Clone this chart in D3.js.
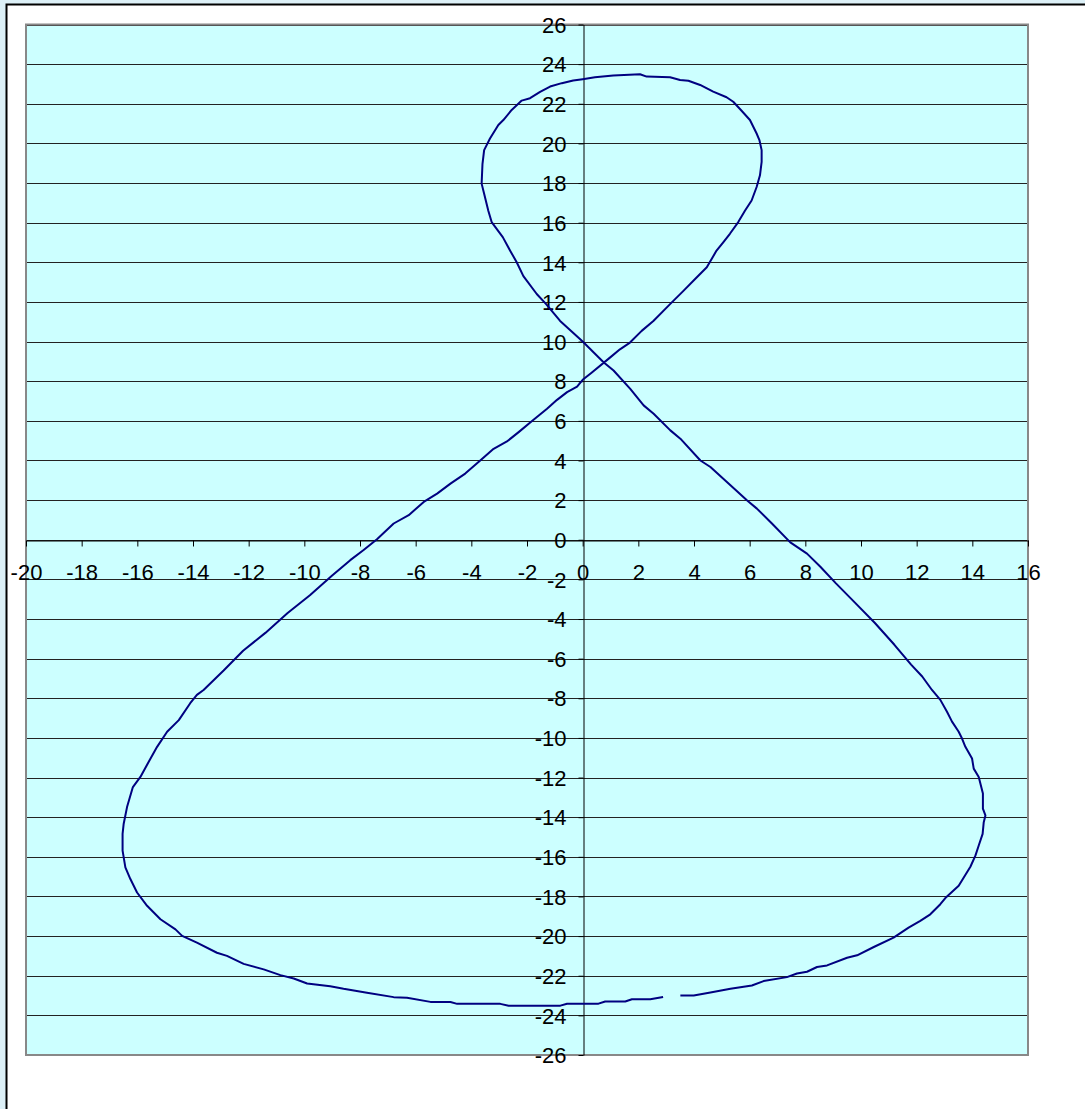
<!DOCTYPE html>
<html>
<head>
<meta charset="utf-8">
<script src="https://cdn.jsdelivr.net/npm/d3@7"></script>
<style>
  body { margin: 0; background: #dcf0f7; overflow: hidden; }
  svg { display: block; }
  .tick text { font-family: Arial, "Liberation Sans", sans-serif; font-size: 22px; fill: #000; }
</style>
</head>
<body>
<div id="chart"></div>
<script>
// tick values
const xTicks = d3.range(-20, 17, 2);
const yTicks = d3.range(-26, 27, 2);

// curve points (start right of the small gap, end left of it)
const curveX = [3.51, 3.99, 4.59, 5.31, 6.08, 6.5, 7.34, 7.7, 8.06, 8.42, 8.78, 9.5, 9.86, 10.46, 11.17, 11.71, 12.13, 12.49, 12.85, 13.03,
  13.51, 13.93, 14.11, 14.23, 14.37, 14.41, 14.47, 14.38, 14.38, 14.23, 14.05, 13.99, 13.75, 13.63, 13.51, 13.27, 13.09, 12.85, 12.55,
  12.2, 11.8, 11.2, 10.5, 9.8, 9.1, 8.54, 8.06, 7.46, 6.8, 6.26, 5.9, 5.31, 4.59, 4.23, 3.51, 3.15, 2.55, 2.19, 1.71, 1.11, 0.75,
  0, -0.81, -1.32, -1.65, -2.13, -2.37, -2.61, -2.87, -3.27, -3.39, -3.54, -3.63, -3.6, -3.54, -3.33, -3.03, -2.85, -2.55, -2.19, -1.89,
  -1.53, -1.17, -0.75, -0.34, 0, 0.44, 1.1, 2.06, 2.3, 3.14, 3.5, 3.8, 4.22, 4.69, 5.17, 5.41, 5.71, 6.01, 6.25, 6.35, 6.43, 6.43,
  6.37, 6.25, 6.07, 5.83, 5.59, 5.29, 5.05, 4.81, 4.46, 4.04, 3.62, 3.14, 2.54, 2.12, 1.7, 1.34, 0.98, 0.32, 0,
  -0.2, -0.56, -0.92, -1.28, -1.82, -2.3, -2.72, -3.2, -3.68, -4.22, -4.75, -5.23, -5.71, -6.25, -6.79, -7.39, -7.87, -8.35,
  -9.0, -9.8, -10.6, -11.4, -12.2, -12.9, -13.62, -13.86, -14.1, -14.51, -14.93, -15.29, -15.59, -15.89, -16.16, -16.37, -16.49,
  -16.53, -16.53, -16.43, -16.25, -16.01, -15.65, -15.17, -14.63, -14.39, -13.86, -13.14, -12.78, -12.18, -11.46, -10.86, -10.38,
  -9.9, -9.07, -8.59, -7.75, -6.79, -6.31, -5.47, -4.75, -4.51, -2.96, -2.66, -0.8, -0.56, 0.57, 0.81, 1.53, 1.77, 2.43, 2.89];
const curveY = [-23.0, -23.0, -22.85, -22.66, -22.49, -22.27, -22.07, -21.89, -21.8, -21.56, -21.48, -21.09, -20.97, -20.55, -20.08, -19.57, -19.23, -18.9, -18.39, -18.08,
  -17.46, -16.5, -15.94, -15.43, -14.84, -14.25, -13.91, -13.57, -12.81, -11.97, -11.55, -11.04, -10.45, -10.03, -9.69, -9.18, -8.68, -8.08, -7.58,
  -6.9, -6.3, -5.3, -4.2, -3.2, -2.2, -1.36, -0.7, -0.13, 0.82, 1.57, 1.99, 2.75, 3.67, 4.0, 5.1, 5.52, 6.36, 6.78, 7.61, 8.54, 8.96,
  10.0, 11.04, 11.9, 12.4, 13.3, 14.0, 14.6, 15.27, 16.03, 16.6, 17.46, 17.97, 18.95, 19.66, 20.25, 20.93, 21.18, 21.69, 22.16, 22.28,
  22.6, 22.87, 23.04, 23.17, 23.24, 23.34, 23.43, 23.49, 23.37, 23.34, 23.2, 23.16, 22.95, 22.61, 22.33, 22.1, 21.65, 21.18, 20.5, 20.17, 19.66, 19.07,
  18.39, 17.8, 17.12, 16.6, 16.03, 15.44, 15.01, 14.59, 13.75, 13.16, 12.56, 11.89, 11.04, 10.54, 9.95, 9.61, 9.19, 8.43, 8.07,
  7.73, 7.45, 7.06, 6.61, 5.99, 5.43, 4.96, 4.59, 4.0, 3.34, 2.83, 2.33, 1.91, 1.24, 0.82, 0.03, -0.52, -1.03,
  -1.8, -2.8, -3.7, -4.7, -5.6, -6.6, -7.58, -7.83, -8.25, -9.1, -9.69, -10.45, -11.2, -11.97, -12.48, -13.49, -14.33,
  -14.84, -15.69, -16.53, -17.12, -17.8, -18.47, -19.15, -19.66, -19.99, -20.33, -20.84, -21.0, -21.4, -21.68, -21.97, -22.14,
  -22.39, -22.53, -22.66, -22.86, -23.08, -23.11, -23.32, -23.33, -23.42, -23.42, -23.51, -23.51, -23.41, -23.41, -23.3, -23.3, -23.19, -23.19, -23.07];

const width = 1085, height = 1109;
const plot = { left: 26, right: 1028, top: 24.5, bottom: 1055 };

const svg = d3.select('#chart')
  .append('svg')
  .attr('width', width)
  .attr('height', height);

// chart frame
svg.append('rect')
  .attr('x', 6.5).attr('y', 4.5)
  .attr('width', 1200).attr('height', 1200)
  .attr('fill', '#fff')
  .attr('stroke', '#000')
  .attr('stroke-width', 2);

const x = d3.scaleLinear().domain([-20, 16]).range([plot.left, plot.right]);
const y = d3.scaleLinear().domain([-26, 26]).range([plot.bottom, plot.top]);

// plot area
svg.append('rect')
  .attr('x', plot.left).attr('y', plot.top)
  .attr('width', plot.right - plot.left)
  .attr('height', plot.bottom - plot.top)
  .attr('fill', '#ccffff');

svg.append('g')
  .selectAll('line')
  .data(yTicks)
  .enter()
  .append('line')
  .attr('x1', plot.left).attr('x2', plot.right)
  .attr('y1', d => Math.round(y(d)) + 0.5)
  .attr('y2', d => Math.round(y(d)) + 0.5)
  .attr('stroke', '#222')
  .attr('stroke-width', 1);

svg.append('rect')
  .attr('x', plot.left).attr('y', plot.top)
  .attr('width', plot.right - plot.left)
  .attr('height', plot.bottom - plot.top)
  .attr('fill', 'none')
  .attr('stroke', '#888')
  .attr('stroke-width', 2);

// plain hyphen minus, as in the original
const fmt = d => String(d);

// axes crossing at 0
const xAxis = svg.append('g')
  .attr('transform', `translate(0,${Math.round(y(0)) + 0.5})`)
  .call(d3.axisBottom(x).tickValues(xTicks).tickFormat(fmt).tickSize(6).tickSizeOuter(0));
xAxis.select('.domain').attr('stroke', '#000');
xAxis.selectAll('.tick text').attr('y', 32).attr('dy', '0.35em');

const yAxis = svg.append('g')
  .attr('transform', `translate(${Math.round(x(0)) + 0.5},0)`)
  .call(d3.axisLeft(y).tickValues(yTicks).tickFormat(fmt).tickSize(5).tickSizeOuter(0));
yAxis.select('.domain').attr('stroke', '#000');
yAxis.selectAll('.tick text').attr('x', -17).attr('dy', '0.35em');

// the curve
const pts = curveX.map((v, i) => [v, curveY[i]]);
svg.append('path')
  .datum(pts)
  .attr('fill', 'none')
  .attr('stroke', '#000080')
  .attr('stroke-width', 2)
  .attr('stroke-linejoin', 'round')
  .attr('d', d3.line().x(d => x(d[0])).y(d => y(d[1])));
</script>
</body>
</html>
